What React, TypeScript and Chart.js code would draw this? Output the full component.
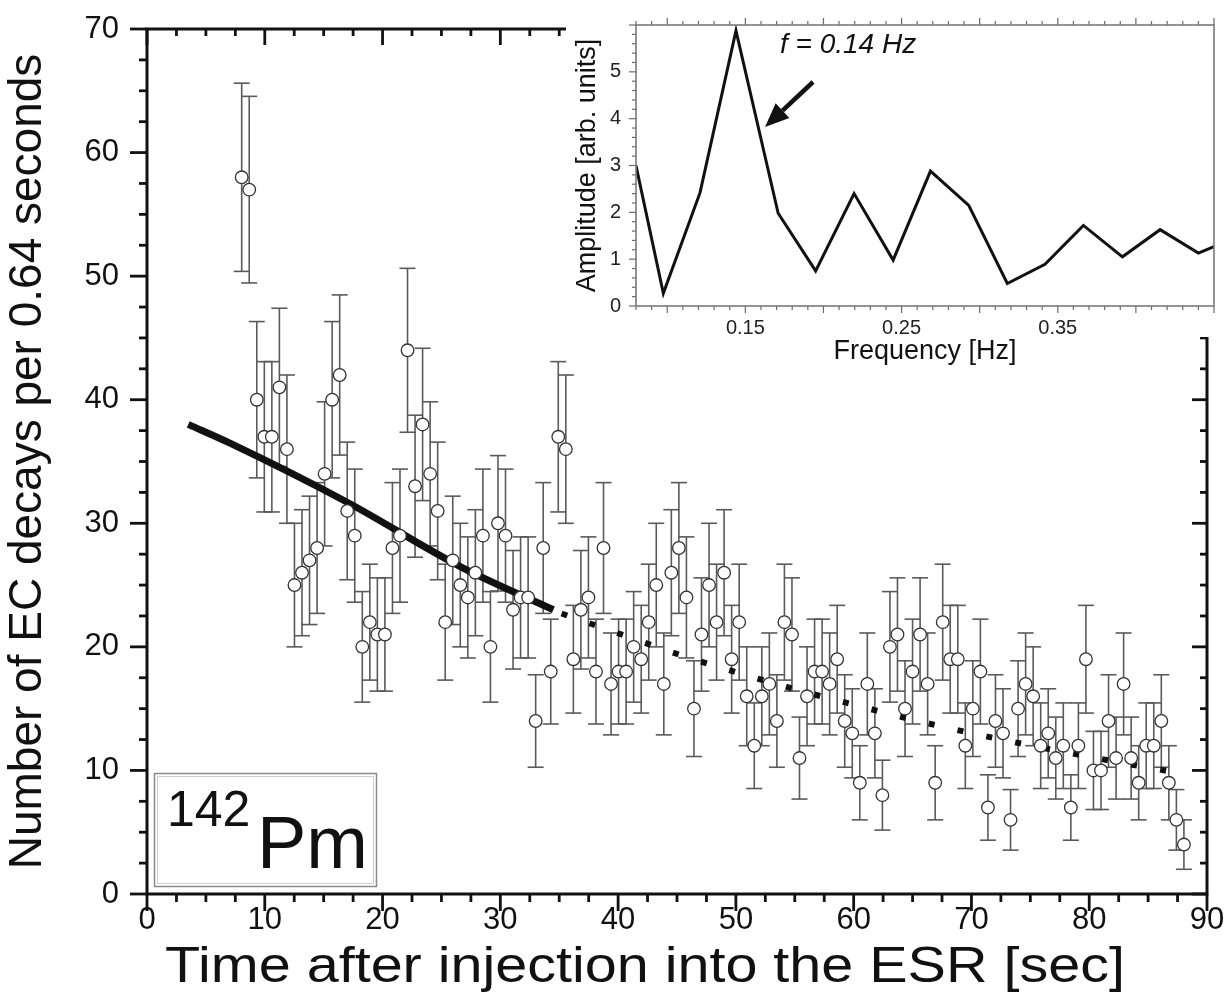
import React, { useEffect, useRef } from "react";
import { Chart, registerables } from "chart.js";

Chart.register(...registerables);

const FONT = "'Liberation Sans', Arial, Helvetica, sans-serif";

// ---------- main chart data ----------
const TIMES = [
  8.04, 8.68, 9.32, 9.96, 10.6, 11.24, 11.88, 12.52, 13.16, 13.8,
  14.44, 15.08, 15.72, 16.36, 17.0, 17.64, 18.28, 18.92, 19.56, 20.2,
  20.84, 21.48, 22.12, 22.76, 23.4, 24.04, 24.68, 25.32, 25.96, 26.6,
  27.24, 27.88, 28.52, 29.16, 29.8, 30.44, 31.08, 31.72, 32.36, 33.0,
  33.64, 34.28, 34.92, 35.56, 36.2, 36.84, 37.48, 38.12, 38.76, 39.4,
  40.04, 40.68, 41.32, 41.96, 42.6, 43.24, 43.88, 44.52, 45.16, 45.8,
  46.44, 47.08, 47.72, 48.36, 49.0, 49.64, 50.28, 50.92, 51.56, 52.2,
  52.84, 53.48, 54.12, 54.76, 55.4, 56.04, 56.68, 57.32, 57.96, 58.6,
  59.24, 59.88, 60.52, 61.16, 61.8, 62.44, 63.08, 63.72, 64.36, 65.0,
  65.64, 66.28, 66.92, 67.56, 68.2, 68.84, 69.48, 70.12, 70.76, 71.4,
  72.04, 72.68, 73.32, 73.96, 74.6, 75.24, 75.88, 76.52, 77.16, 77.8,
  78.44, 79.08, 79.72, 80.36, 81.0, 81.64, 82.28, 82.92, 83.56, 84.2,
  84.84, 85.48, 86.12, 86.76, 87.4, 88.04,
];
const COUNTS = [
  58, 57, 40, 37, 37, 41, 36, 25, 26, 27,
  28, 34, 40, 42, 31, 29, 20, 22, 21, 21,
  28, 29, 44, 33, 38, 34, 31, 22, 27, 25,
  24, 26, 29, 20, 30, 29, 23, 24, 24, 14,
  28, 18, 37, 36, 19, 23, 24, 18, 28, 17,
  18, 18, 20, 19, 22, 25, 17, 26, 28, 24,
  15, 21, 25, 22, 26, 19, 22, 16, 12, 16,
  17, 14, 22, 21, 11, 16, 18, 18, 17, 19,
  14, 13, 9, 17, 13, 8, 20, 21, 15, 18,
  21, 17, 9, 22, 19, 19, 12, 15, 18, 7,
  14, 13, 6, 15, 17, 16, 12, 13, 11, 12,
  7, 12, 19, 10, 10, 14, 11, 17, 11, 9,
  12, 12, 14, 9, 6, 4,
];
// fitted decay curve
const FIT_SOLID_T = [3.5, 7.0, 17.0, 26.6, 34.5];
const FIT_SOLID_N = [38.0, 36.5, 31.7, 26.5, 23.0];
const FIT_DOTTED_T = [35.2, 40.3, 45.1, 54.9, 59.7, 64.6, 69.6, 74.6, 79.5, 84.6, 87.6];
const FIT_DOTTED_N = [22.7, 21.0, 19.4, 16.6, 15.4, 14.2, 13.1, 12.1, 11.2, 10.3, 9.8];

const X_TICKS = [0, 10, 20, 30, 40, 50, 60, 70, 80, 90];
const Y_TICKS = [0, 10, 20, 30, 40, 50, 60, 70];
const X_TITLE = "Time after injection into the ESR [sec]";
const Y_TITLE = "Number of EC decays per 0.64 seconds";

// ---------- inset data ----------
const FREQ = [0.08, 0.0975, 0.121, 0.144, 0.171, 0.195, 0.2196, 0.2446, 0.2685, 0.293, 0.3177, 0.3418, 0.3664, 0.3914, 0.4155, 0.44, 0.45];
const AMP = [3.0, 0.27, 2.42, 5.88, 1.98, 0.75, 2.4, 0.98, 2.88, 2.15, 0.48, 0.89, 1.72, 1.05, 1.63, 1.13, 1.27];
const FREQ_TICKS = [0.15, 0.25, 0.35];
const AMP_TICKS = [0, 1, 2, 3, 4, 5];

function seg(ctx: CanvasRenderingContext2D, x1: number, y1: number, x2: number, y2: number) {
  ctx.beginPath();
  ctx.moveTo(x1, y1);
  ctx.lineTo(x2, y2);
  ctx.stroke();
}

function fixWidth(w: number) {
  return (s: any) => {
    s.width = w;
    s.paddingTop = 0;
    s.paddingBottom = 0;
  };
}
function fixHeight(h: number) {
  return (s: any) => {
    s.height = h;
    s.paddingLeft = 0;
    s.paddingRight = 0;
  };
}

const mainPlugin = {
  id: "mainDecor",
  beforeDatasetsDraw(chart: any) {
    const { ctx, chartArea: a, scales } = chart;
    const x = scales.x, y = scales.y;
    ctx.save();
    ctx.beginPath();
    ctx.rect(a.left, a.top, a.right - a.left, a.bottom - a.top);
    ctx.clip();
    ctx.strokeStyle = "#5a5a5a";
    ctx.lineWidth = 1.6;
    for (let i = 0; i < TIMES.length; i++) {
      const n = COUNTS[i];
      const e = Math.sqrt(n); // Poisson error
      const px = x.getPixelForValue(TIMES[i]);
      const pt = y.getPixelForValue(n + e);
      const pb = y.getPixelForValue(n - e);
      seg(ctx, px, pt, px, pb);
      seg(ctx, px - 8, pt, px + 8, pt);
      seg(ctx, px - 8, pb, px + 8, pb);
    }
    ctx.restore();
  },
  afterDraw(chart: any) {
    const { ctx, chartArea: a, scales } = chart;
    const x = scales.x, y = scales.y;
    ctx.save();
    ctx.strokeStyle = "#111";
    ctx.lineWidth = 2.8;
    ctx.lineCap = "butt";
    for (let v = 0; v <= 90.001; v += 2.5) {
      const px = x.getPixelForValue(v);
      const major = Math.abs(v % 10) < 0.01;
      seg(ctx, px, a.bottom, px, a.bottom + (major ? 17 : 8));
      seg(ctx, px, a.top, px, a.top + (major ? 16 : 7));
    }
    for (let v = 0; v <= 70.001; v += 2.5) {
      const py = y.getPixelForValue(v);
      const major = Math.abs(v % 10) < 0.01;
      seg(ctx, a.left, py, a.left - (major ? 17 : 8), py);
      seg(ctx, a.right, py, a.right - (major ? 15 : 7), py);
    }
    ctx.lineWidth = 3;
    ctx.strokeRect(a.left, a.top, a.right - a.left, a.bottom - a.top);

    // x-axis title (original lettering is wide, so stretch horizontally)
    ctx.fillStyle = "#111";
    ctx.save();
    ctx.translate((a.left + a.right) / 2 - 32, a.bottom + 74);
    ctx.scale(1.15, 1);
    ctx.font = `50px ${FONT}`;
    ctx.textAlign = "center";
    ctx.textBaseline = "middle";
    ctx.fillText(X_TITLE, 0, 0);
    ctx.restore();

    // nuclide label box
    const bx = a.left + 7, by = a.bottom - 121, bw = 223, bh = 114;
    ctx.fillStyle = "#fff";
    ctx.fillRect(bx, by, bw, bh);
    ctx.strokeStyle = "#8a8a8a";
    ctx.lineWidth = 1.5;
    ctx.strokeRect(bx + 0.5, by + 0.5, bw - 1, bh - 1);
    ctx.strokeStyle = "#cfcfcf";
    ctx.lineWidth = 1;
    ctx.strokeRect(bx + 3.5, by + 3.5, bw - 7, bh - 7);
    ctx.fillStyle = "#111";
    ctx.textBaseline = "alphabetic";
    ctx.textAlign = "left";
    ctx.font = `50px ${FONT}`;
    ctx.fillText("142", bx + 13, by + 53);
    ctx.font = `74px ${FONT}`;
    ctx.fillText("Pm", bx + 103, by + 95);
    ctx.restore();
  },
};

const insetPlugin = {
  id: "insetDecor",
  beforeDraw(chart: any) {
    const { ctx, width } = chart;
    ctx.save();
    ctx.fillStyle = "#fff";
    ctx.fillRect(0, 0, width, 337);
    ctx.restore();
  },
  afterDraw(chart: any) {
    const { ctx, chartArea: a, scales } = chart;
    const x = scales.x, y = scales.y;
    ctx.save();
    ctx.strokeStyle = "#6a6a6a";
    ctx.lineWidth = 1.2;
    for (let k = 8; k <= 45; k++) {
      const v = k / 100;
      const px = x.getPixelForValue(v);
      const major = k % 5 === 0;
      seg(ctx, px, a.bottom, px, a.bottom + (major ? 7 : 4));
      seg(ctx, px, a.top, px, a.top - (major ? 7 : 4));
    }
    for (let k = 0; k <= 30; k++) {
      const v = k / 5;
      const py = y.getPixelForValue(v);
      const major = k % 5 === 0;
      seg(ctx, a.left, py, a.left - (major ? 7 : 4), py);
    }
    ctx.strokeStyle = "#7a7a7a";
    ctx.lineWidth = 1.6;
    ctx.strokeRect(a.left, a.top, a.right - a.left, a.bottom - a.top);

    // annotation
    ctx.fillStyle = "#111";
    ctx.font = `italic 28px ${FONT}`;
    ctx.textBaseline = "middle";
    ctx.textAlign = "left";
    ctx.fillText("f = 0.14 Hz", 214, 45);

    const tx = 247, ty = 82, hx = 199, hy = 127;
    const ang = Math.atan2(hy - ty, hx - tx);
    const hl = 24, hw = 10;
    const bxp = hx - hl * Math.cos(ang), byp = hy - hl * Math.sin(ang);
    ctx.strokeStyle = "#111";
    ctx.lineWidth = 4.5;
    seg(ctx, tx, ty, bxp, byp);
    ctx.beginPath();
    ctx.moveTo(hx, hy);
    ctx.lineTo(bxp + hw * Math.sin(ang), byp - hw * Math.cos(ang));
    ctx.lineTo(bxp - hw * Math.sin(ang), byp + hw * Math.cos(ang));
    ctx.closePath();
    ctx.fill();
    ctx.restore();
  },
};

export default function App() {
  const mainRef = useRef<HTMLCanvasElement>(null);
  const insetRef = useRef<HTMLCanvasElement>(null);

  useEffect(() => {
    const main = new Chart(mainRef.current as HTMLCanvasElement, {
      type: "scatter",
      data: {
        datasets: [
          {
            label: "counts",
            data: TIMES.map((t, i) => ({ x: t, y: COUNTS[i] })),
            showLine: false,
            pointRadius: 6.3,
            pointBorderWidth: 1.3,
            pointBackgroundColor: "#ffffff",
            pointBorderColor: "#333333",
            order: 0,
          },
          {
            label: "fit",
            data: FIT_SOLID_T.map((t, i) => ({ x: t, y: FIT_SOLID_N[i] })),
            showLine: true,
            borderColor: "#111",
            borderWidth: 7,
            borderCapStyle: "butt",
            pointRadius: 0,
            cubicInterpolationMode: "monotone",
            order: 1,
          },
          {
            label: "fit extrapolated",
            data: FIT_DOTTED_T.map((t, i) => ({ x: t, y: FIT_DOTTED_N[i] })),
            showLine: true,
            borderColor: "#111",
            borderWidth: 6,
            borderDash: [6, 23.5],
            borderCapStyle: "butt",
            pointRadius: 0,
            cubicInterpolationMode: "monotone",
            order: 2,
          },
        ],
      },
      options: {
        responsive: false,
        animation: false,
        events: [],
        layout: { padding: { top: 29, right: 22, left: 0, bottom: 0 } },
        plugins: { legend: { display: false }, tooltip: { enabled: false } },
        scales: {
          x: {
            type: "linear",
            min: 0,
            max: 90,
            afterBuildTicks: (s: any) => {
              s.ticks = X_TICKS.map((v) => ({ value: v }));
            },
            afterFit: fixHeight(109),
            grid: { display: false, drawTicks: false },
            border: { display: false },
            ticks: {
              font: { size: 31, family: FONT },
              color: "#111",
              padding: 8,
              maxRotation: 0,
              autoSkip: false,
            },
            title: { display: false, text: X_TITLE },
          },
          y: {
            type: "linear",
            min: 0,
            max: 70,
            afterBuildTicks: (s: any) => {
              s.ticks = Y_TICKS.map((v) => ({ value: v }));
            },
            afterFit: fixWidth(147),
            grid: { display: false, drawTicks: false },
            border: { display: false },
            ticks: {
              font: { size: 31, family: FONT },
              color: "#111",
              padding: 28,
            },
            title: {
              display: true,
              text: Y_TITLE,
              font: { size: 46, family: FONT },
              color: "#111",
              padding: { top: 1, bottom: 0 },
            },
          },
        },
      },
      plugins: [mainPlugin],
    } as any);

    const inset = new Chart(insetRef.current as HTMLCanvasElement, {
      type: "scatter",
      data: {
        datasets: [
          {
            label: "amplitude",
            data: FREQ.map((f, i) => ({ x: f, y: AMP[i] })),
            showLine: true,
            borderColor: "#111",
            borderWidth: 3,
            pointRadius: 0,
            tension: 0,
          },
        ],
      },
      options: {
        responsive: false,
        animation: false,
        events: [],
        layout: { padding: { top: 25, right: 15, left: 0, bottom: 0 } },
        plugins: { legend: { display: false }, tooltip: { enabled: false } },
        scales: {
          x: {
            type: "linear",
            min: 0.08,
            max: 0.45,
            afterBuildTicks: (s: any) => {
              s.ticks = FREQ_TICKS.map((v) => ({ value: v }));
            },
            afterFit: fixHeight(66),
            grid: { display: false, drawTicks: false },
            border: { display: false },
            ticks: {
              font: { size: 20, family: FONT },
              color: "#222",
              padding: 10,
              maxRotation: 0,
              autoSkip: false,
              callback: (v: any) => Number(v).toFixed(2),
            },
            title: {
              display: true,
              text: "Frequency [Hz]",
              font: { size: 27, family: FONT },
              color: "#111",
              padding: { top: 0, bottom: 4 },
            },
          },
          y: {
            type: "linear",
            min: 0,
            max: 6,
            afterBuildTicks: (s: any) => {
              s.ticks = AMP_TICKS.map((v) => ({ value: v }));
            },
            afterFit: fixWidth(70),
            grid: { display: false, drawTicks: false },
            border: { display: false },
            ticks: {
              font: { size: 20, family: FONT },
              color: "#222",
              padding: 15,
            },
            title: {
              display: true,
              text: "Amplitude [arb. units]",
              font: { size: 27, family: FONT },
              color: "#111",
              padding: { top: 5, bottom: 0 },
            },
          },
        },
      },
      plugins: [insetPlugin],
    } as any);

    return () => {
      main.destroy();
      inset.destroy();
    };
  }, []);

  return (
    <div style={{ position: "absolute", left: 0, top: 0, width: 1229, height: 1003, background: "#fff" }}>
      <canvas ref={mainRef} width={1229} height={1003} style={{ position: "absolute", left: 0, top: 0 }} />
      <canvas ref={insetRef} width={663} height={372} style={{ position: "absolute", left: 566, top: 0 }} />
    </div>
  );
}
